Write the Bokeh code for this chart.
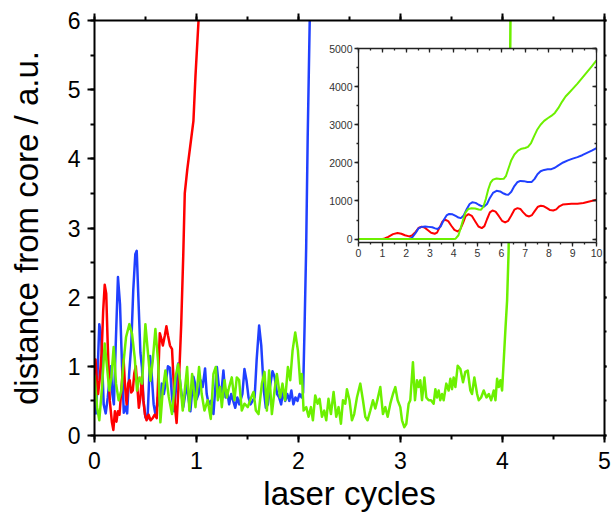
from bokeh.plotting import figure
from bokeh.models import Range1d, LinearAxis, SingleIntervalTicker, Column
from bokeh.embed import file_html
from bokeh.resources import INLINE

# ---------------- main panel data (laser cycles, distance / a.u.) ----------------
red_t = [0.00, 0.01, 0.02, 0.035, 0.05, 0.07, 0.085, 0.10, 0.115, 0.13, 0.15, 0.17, 0.185, 0.20,
         0.215, 0.23, 0.245, 0.26, 0.275, 0.285, 0.30, 0.315, 0.33, 0.345, 0.36, 0.375, 0.39, 0.405,
         0.42, 0.435, 0.45, 0.465, 0.48, 0.495, 0.51, 0.53, 0.55, 0.57, 0.59, 0.61, 0.625, 0.64,
         0.655, 0.67, 0.69, 0.705, 0.72, 0.74, 0.76, 0.775, 0.79, 0.805, 0.82, 0.835, 0.85, 0.87,
         0.885, 0.91, 0.94, 0.97, 0.99, 1.02, 1.05]
red_d = [1.05, 1.10, 0.85, 0.60, 0.80, 1.20, 1.80, 2.18, 2.05, 1.30, 0.50, 0.20, 0.08, 0.35,
         0.20, 0.35, 0.30, 0.60, 0.90, 1.10, 0.70, 0.45, 0.75, 0.80, 0.62, 0.65, 0.90, 1.00,
         0.70, 0.40, 0.55, 0.85, 0.50, 0.30, 0.22, 0.30, 0.22, 0.25, 0.30, 0.25, 0.85, 1.48,
         1.40, 1.30, 1.45, 1.58, 1.45, 1.30, 1.25, 0.80, 0.40, 0.18, 0.60, 1.05, 1.60, 2.60,
         3.50, 3.85, 4.20, 4.55, 5.20, 6.00, 7.00]

blue_t = [0.00, 0.015, 0.03, 0.047, 0.065, 0.09, 0.11, 0.13, 0.145, 0.16, 0.175, 0.19, 0.21, 0.23,
          0.25, 0.27, 0.287, 0.305, 0.32, 0.34, 0.36, 0.38, 0.40, 0.414, 0.43, 0.45, 0.465, 0.48,
          0.50, 0.52, 0.545, 0.56, 0.58, 0.60, 0.62, 0.64, 0.66, 0.68, 0.70, 0.72, 0.74, 0.76,
          0.78, 0.80, 0.82, 0.845, 0.87, 0.89, 0.905, 0.92, 0.94, 0.955, 0.97, 0.986, 1.00, 1.02,
          1.04, 1.06, 1.084, 1.10, 1.12, 1.14, 1.166, 1.185, 1.20, 1.22, 1.24, 1.264, 1.285, 1.30,
          1.32, 1.34, 1.36, 1.38, 1.40, 1.42, 1.45, 1.47, 1.49, 1.51, 1.53, 1.55, 1.57, 1.59,
          1.614, 1.635, 1.66, 1.68, 1.70, 1.72, 1.745, 1.765, 1.79, 1.81, 1.83, 1.85, 1.87, 1.89,
          1.91, 1.93, 1.95, 1.97, 1.99, 2.01, 2.03, 2.045, 2.06, 2.075, 2.09, 2.11, 2.13]
blue_d = [0.41, 0.32, 0.90, 1.61, 1.45, 0.45, 0.32, 0.55, 0.78, 1.00, 0.60, 0.45, 1.40, 2.29,
          1.90, 1.00, 0.33, 0.42, 0.32, 0.90, 1.30, 2.10, 2.62, 2.67, 2.00, 1.20, 0.99, 0.50,
          0.26, 0.24, 1.15, 0.90, 0.45, 0.28, 0.55, 0.42, 0.75, 0.60, 0.78, 1.00, 0.98, 0.55,
          0.35, 0.70, 1.04, 0.70, 0.41, 0.60, 0.78, 0.55, 0.35, 0.60, 0.85, 0.75, 0.52, 0.60,
          0.80, 0.70, 0.97, 0.60, 0.45, 0.50, 0.31, 0.70, 0.99, 0.70, 0.55, 0.94, 0.55, 0.65,
          0.45, 0.60, 0.50, 0.40, 0.55, 0.45, 0.60, 0.96, 0.80, 0.55, 0.45, 0.50, 0.55, 1.10,
          1.59, 1.30, 0.65, 0.40, 0.45, 0.70, 0.93, 0.85, 0.60, 0.55, 0.45, 0.65, 0.50, 0.60,
          0.50, 0.65, 0.45, 0.55, 0.50, 0.60, 0.55, 0.62, 1.60, 2.70, 4.30, 6.00, 7.50]

green_t = [0.000, 0.025, 0.047, 0.074, 0.100, 0.123, 0.145, 0.165, 0.188, 0.211, 0.237, 0.263,
           0.286, 0.309, 0.342, 0.368, 0.394, 0.417, 0.440, 0.466, 0.499, 0.525, 0.548, 0.571,
           0.597, 0.623, 0.646, 0.669, 0.695, 0.728, 0.760, 0.793, 0.820, 0.842, 0.865, 0.908,
           0.930, 0.957, 0.990, 1.025, 1.051, 1.078, 1.110, 1.140, 1.166, 1.189, 1.209, 1.232,
           1.248, 1.275, 1.297, 1.320, 1.346, 1.372, 1.395, 1.418, 1.444, 1.470, 1.503, 1.536,
           1.559, 1.582, 1.608, 1.641, 1.667, 1.690, 1.712, 1.739, 1.765, 1.788, 1.820, 1.843,
           1.869, 1.896, 1.919, 1.942, 1.968, 1.994, 2.017, 2.033, 2.050, 2.076, 2.099, 2.122,
           2.141, 2.164, 2.187, 2.207, 2.230, 2.252, 2.272, 2.294, 2.318, 2.344, 2.370, 2.393,
           2.416, 2.436, 2.459, 2.475, 2.500, 2.524, 2.546, 2.573, 2.606, 2.632, 2.655, 2.677,
           2.704, 2.730, 2.753, 2.776, 2.802, 2.828, 2.851, 2.874, 2.900, 2.926, 2.949, 2.972,
           2.998, 3.015, 3.037, 3.057, 3.080, 3.096, 3.122, 3.142, 3.162, 3.178, 3.194, 3.211,
           3.234, 3.253, 3.276, 3.299, 3.325, 3.342, 3.358, 3.374, 3.390, 3.407, 3.423, 3.449,
           3.472, 3.489, 3.505, 3.521, 3.538, 3.561, 3.587, 3.613, 3.636, 3.659, 3.685, 3.701,
           3.724, 3.751, 3.767, 3.790, 3.816, 3.843, 3.866, 3.889, 3.914, 3.931, 3.947, 3.963,
           3.980, 3.996, 4.012, 4.030, 4.045, 4.060, 4.078, 4.100]
green_d = [0.87, 0.41, 0.22, 0.70, 1.33, 0.99, 0.65, 0.84, 1.28, 0.75, 0.51, 0.65,
           1.08, 1.42, 1.61, 1.47, 1.13, 0.65, 0.84, 0.75, 1.61, 1.18, 0.79, 1.08,
           1.54, 1.08, 0.19, 0.65, 0.94, 0.56, 0.31, 0.84, 1.03, 0.75, 0.36, 0.99,
           0.36, 0.89, 0.41, 0.99, 0.60, 0.36, 0.51, 0.24, 0.89, 0.99, 0.51, 0.70,
           0.41, 0.80, 0.55, 0.70, 0.84, 0.51, 0.84, 0.80, 0.36, 0.46, 0.41, 0.55,
           0.63, 0.36, 0.31, 0.75, 0.92, 0.36, 0.94, 0.31, 0.65, 0.89, 0.55, 0.75,
           0.51, 0.99, 0.80, 1.23, 1.49, 1.23, 0.75, 0.89, 0.36, 0.41, 0.27, 0.41,
           0.22, 0.58, 0.46, 0.53, 0.27, 0.36, 0.22, 0.53, 0.31, 0.63, 0.27, 0.41,
           0.17, 0.51, 0.46, 0.67, 0.51, 0.22, 0.31, 0.55, 0.75, 0.51, 0.27, 0.22,
           0.36, 0.51, 0.39, 0.53, 0.70, 0.31, 0.41, 0.27, 0.46, 0.60, 0.70, 0.51,
           0.41, 0.22, 0.12, 0.17, 0.46, 0.51, 1.06, 0.51, 0.80, 0.70, 0.80, 0.51,
           0.84, 0.55, 0.51, 0.51, 0.46, 0.67, 0.55, 0.65, 0.51, 0.60, 0.51, 0.75,
           0.65, 0.82, 0.67, 0.84, 0.70, 1.01, 0.96, 0.77, 0.92, 0.94, 0.65, 0.60,
           0.84, 0.60, 0.51, 0.55, 0.65, 0.55, 0.60, 0.51, 0.65, 0.51, 0.82, 0.70,
           0.80, 0.65, 1.08, 1.57, 1.95, 2.67, 6.00, 8.00]

# ---------------- inset data ----------------
in_red_x = [0, 0.5, 1.0, 1.1, 1.25, 1.45, 1.64, 1.8, 1.95, 2.13, 2.25, 2.4, 2.52, 2.65, 2.78,
            2.92, 3.05, 3.2, 3.3, 3.42, 3.53, 3.64, 3.77, 3.9, 4.03, 4.16, 4.27, 4.39, 4.5,
            4.62, 4.76, 4.9, 5.04, 5.18, 5.29, 5.4, 5.52, 5.63, 5.76, 5.9, 6.03, 6.16, 6.29,
            6.42, 6.55, 6.68, 6.8, 6.92, 7.05, 7.17, 7.29, 7.41, 7.54, 7.66, 7.79, 7.92, 8.05,
            8.18, 8.31, 8.44, 8.58, 8.71, 8.95, 9.2, 9.45, 9.7, 10]
in_red_y = [0, 0, 5, 15, 60, 130, 157, 140, 100, 70, 95, 190, 290, 323, 300,
            230, 165, 140, 170, 320, 460, 506, 470, 350, 240, 200, 250, 420, 600,
            654, 610, 470, 330, 288, 340, 520, 700, 750, 720, 600, 480, 436, 480,
            620, 770, 811, 790, 700, 620, 593, 630, 740, 850, 873, 860, 810, 760,
            750, 780, 860, 905, 916, 925, 925, 945, 985, 1030]

in_blue_x = [0, 1, 2, 2.13, 2.25, 2.4, 2.52, 2.65, 2.8, 2.95, 3.1, 3.22, 3.32, 3.45, 3.58, 3.7,
             3.81, 3.95, 4.1, 4.2, 4.3, 4.42, 4.55, 4.67, 4.78, 4.92, 5.05, 5.17, 5.28, 5.4,
             5.52, 5.65, 5.8, 5.95, 6.1, 6.2, 6.3, 6.42, 6.55, 6.67, 6.8, 6.95, 7.1, 7.2, 7.28,
             7.4, 7.52, 7.65, 7.8, 7.95, 8.1, 8.25, 8.4, 8.6, 8.8, 9.0, 9.2, 9.4, 9.6, 9.8, 10]
in_blue_y = [0, 0, 0, 5, 40, 160, 280, 320, 330, 320, 310, 280, 262, 330, 500, 620,
             660, 650, 600, 565, 550, 620, 790, 920, 965, 950, 900, 865, 855, 920,
             1080, 1210, 1265, 1250, 1195, 1170, 1165, 1240, 1390, 1490, 1525, 1520, 1500, 1495, 1500,
             1580, 1700, 1780, 1815, 1830, 1835, 1870, 1935, 2010, 2065, 2110, 2150, 2200, 2260, 2320, 2385]

in_green_x = [0, 2, 4.0, 4.08, 4.2, 4.3, 4.4, 4.5, 4.62, 4.75, 4.9, 5.05, 5.15, 5.25, 5.35, 5.45,
              5.55, 5.65, 5.8, 5.95, 6.1, 6.2, 6.3, 6.42, 6.55, 6.7, 6.85, 7.0, 7.12, 7.25, 7.38,
              7.5, 7.65, 7.8, 7.95, 8.1, 8.25, 8.4, 8.55, 8.7, 8.85, 9.0, 9.2, 9.4, 9.6, 9.8, 10]
in_green_y = [0, 0, 0, 10, 100, 300, 520, 700, 790, 810, 800, 775, 770, 850, 1050, 1300,
              1480, 1560, 1590, 1575, 1580, 1660, 1850, 2070, 2220, 2320, 2370, 2390, 2420, 2520, 2700,
              2860, 3000, 3100, 3170, 3230, 3310, 3440, 3600, 3740, 3840, 3940, 4080, 4230, 4380, 4530, 4690]

x_label = "laser cycles"
y_label = "distance from core / a.u."

RED, BLUE, GREEN = "#ff0000", "#2040ff", "#6cf000"
FONT = "Liberation Sans"
LEFT_BORDER = 94

# ---------------- main figure ----------------
p = figure(frame_width=510, frame_height=415, x_range=Range1d(0, 5), y_range=Range1d(0, 6),
           output_backend="svg", toolbar_location=None,
           min_border_left=LEFT_BORDER, min_border_right=8, min_border_top=20, min_border_bottom=80,
           x_axis_label=x_label, y_axis_label=y_label)
p.grid.visible = False
p.outline_line_color = None
p.background_fill_color = "white"
p.border_fill_color = "white"

xt = SingleIntervalTicker(interval=1, num_minor_ticks=2)
yt = SingleIntervalTicker(interval=1, num_minor_ticks=2)
p.xaxis.ticker = xt
p.yaxis.ticker = yt
p.add_layout(LinearAxis(ticker=xt), "above")
p.add_layout(LinearAxis(ticker=yt), "right")


def style_main(ax, out=7, mout=4, labels=True):
    ax.axis_line_width = 2
    ax.axis_line_color = "black"
    ax.major_tick_line_width = 2
    ax.minor_tick_line_width = 2
    ax.major_tick_line_color = "black"
    ax.minor_tick_line_color = "black"
    ax.major_tick_out = out
    ax.major_tick_in = 0
    ax.minor_tick_out = mout
    ax.minor_tick_in = 0
    ax.major_label_text_font = FONT
    ax.axis_label_text_font = FONT
    ax.axis_label_text_font_style = "normal"
    ax.axis_label_text_font_size = "33px"
    ax.axis_label_text_color = "black"
    if labels:
        ax.major_label_text_font_size = "23px"
        ax.major_label_text_color = "black"
    else:
        ax.major_label_text_font_size = "1px"
        ax.major_label_text_color = None
        ax.major_label_standoff = 0


for ax in p.below:
    style_main(ax)
    ax.major_label_standoff = 9
    ax.axis_label_standoff = 3
for ax in p.left:
    style_main(ax)
    ax.major_label_standoff = 7
    ax.axis_label_standoff = 20
for ax in p.above:
    style_main(ax, labels=False)
for ax in p.right:
    style_main(ax, out=2, mout=2, labels=False)

p.line(blue_t, blue_d, line_color=BLUE, line_width=2.5, line_join="round")
p.line(red_t, red_d, line_color=RED, line_width=2.5, line_join="round")
p.line(green_t, green_d, line_color=GREEN, line_width=2.5, line_join="round")

# ---------------- inset figure ----------------
q = figure(frame_width=238, frame_height=194, x_range=Range1d(0, 10), y_range=Range1d(-90, 5000),
           output_backend="svg", toolbar_location=None,
           min_border_left=LEFT_BORDER, min_border_right=8, min_border_top=8, min_border_bottom=22)
q.grid.visible = False
q.outline_line_color = None
q.background_fill_color = "white"
q.border_fill_alpha = 0
q.border_fill_color = None

qxt = SingleIntervalTicker(interval=1, num_minor_ticks=2)
qyt = SingleIntervalTicker(interval=1000, num_minor_ticks=2)
q.xaxis.ticker = qxt
q.yaxis.ticker = qyt
q.add_layout(LinearAxis(ticker=qxt), "above")
q.add_layout(LinearAxis(ticker=qyt), "right")


def style_inset(ax, outward=True, labels=True):
    ax.axis_line_width = 1.3
    ax.axis_line_color = "#222222"
    ax.major_tick_line_width = 1.3
    ax.minor_tick_line_width = 1.3
    ax.major_tick_line_color = "#222222"
    ax.minor_tick_line_color = "#222222"
    if outward:
        ax.major_tick_out, ax.major_tick_in = 4, 0
        ax.minor_tick_out, ax.minor_tick_in = 2, 0
    else:
        ax.major_tick_out, ax.major_tick_in = 0, 4
        ax.minor_tick_out, ax.minor_tick_in = 0, 2
    ax.major_label_text_font = FONT
    if labels:
        ax.major_label_text_font_size = "10.5px"
        ax.major_label_text_color = "#333333"
        ax.major_label_standoff = 2
    else:
        ax.major_label_text_font_size = "1px"
        ax.major_label_text_color = None
        ax.major_label_standoff = 0


for ax in q.below + q.left:
    style_inset(ax)
for ax in q.above + q.right:
    style_inset(ax, outward=False, labels=False)

q.line(in_red_x, in_red_y, line_color=RED, line_width=2, line_join="round")
q.line(in_blue_x, in_blue_y, line_color=BLUE, line_width=2, line_join="round")
q.line(in_green_x, in_green_y, line_color=GREEN, line_width=2, line_join="round")

q.styles = {"position": "absolute", "left": "%dpx" % (358 - LEFT_BORDER), "top": "40px"}

layout = Column(children=[p, q], styles={"position": "relative"})

open("out.html", "w").write(file_html(layout, INLINE))
